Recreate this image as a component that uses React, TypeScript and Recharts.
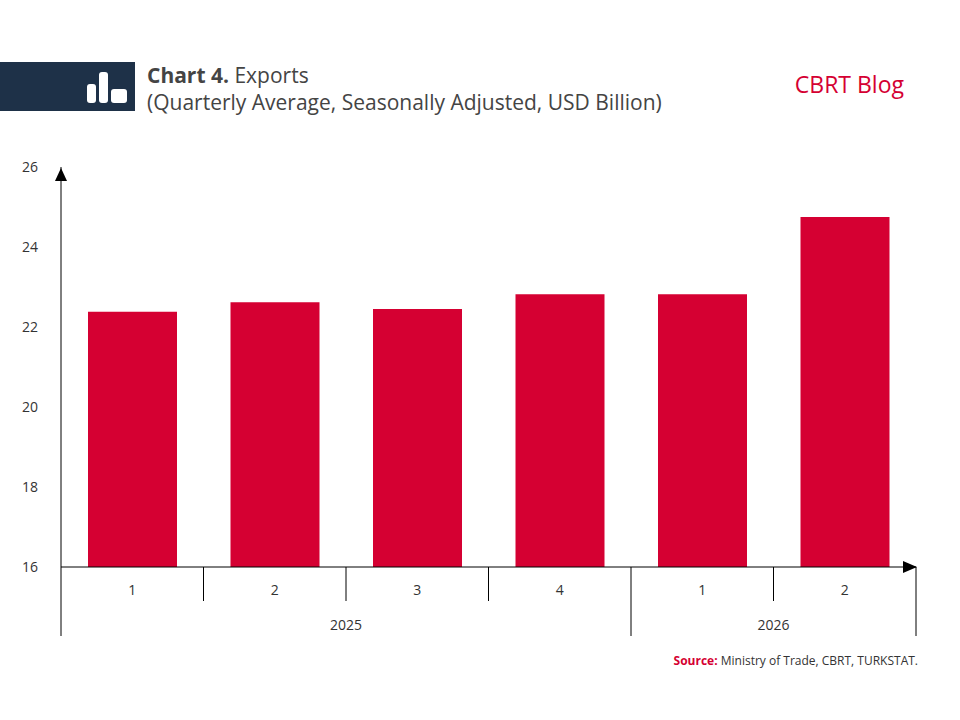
import { BarChart, Bar, XAxis, YAxis, Customized } from "recharts";

const quarters = ["1", "2", "3", "4", "1", "2"];
const years = ["2025", "2025", "2025", "2025", "2026", "2026"];
const exportsBn = [22.38, 22.62, 22.45, 22.82, 22.82, 24.75];
const yTicks = [16, 18, 20, 22, 24, 26];

const data = quarters.map((q, i) => ({ key: `${years[i]}-${q}`, q, year: years[i], value: exportsBn[i] }));

const RED = "#d50032";
const FONT = "'Open Sans', sans-serif";
const BAND = 142.5;

const QuarterTick = (props: any) => {
  const { x, index } = props;
  const y = 567;
  const left = x - BAND / 2;
  const right = x + BAND / 2;
  const longLeft = index === 0 || index === 4;
  return (
    <g>
      <text x={x} y={y + 28} textAnchor="middle" fontSize={14} fill="#333" fontFamily={FONT}>
        {data[index].q}
      </text>
      <line x1={left} x2={left} y1={y} y2={longLeft ? y + 69 : y + 34} stroke="#000" />
      {index === 5 && <line x1={right} x2={right} y1={y} y2={y + 69} stroke="#000" />}
      {index === 2 && (
        <text x={left} y={y + 63} textAnchor="middle" fontSize={14} fill="#333" fontFamily={FONT}>2025</text>
      )}
      {index === 5 && (
        <text x={left} y={y + 63} textAnchor="middle" fontSize={14} fill="#333" fontFamily={FONT}>2026</text>
      )}
    </g>
  );
};

const Arrows = () => (
  <g>
    <path d="M55,181 L61,168 L67,181 Z" fill="#000" />
    <path d="M903,561 L917,567 L903,573 Z" fill="#000" />
  </g>
);

export default function App() {
  return (
    <div style={{ position: "fixed", width: 960, height: 720, left: 0, top: 0, background: "#fff", fontFamily: FONT }}>
      <div style={{ position: "absolute", left: -8, top: 62, width: 143, height: 49, background: "#1e3148" }}>
        <div style={{ position: "absolute", left: 95, top: 22, width: 9, height: 19, background: "#fff", borderRadius: 3 }} />
        <div style={{ position: "absolute", left: 107, top: 10, width: 9, height: 31, background: "#fff", borderRadius: 3 }} />
        <div style={{ position: "absolute", left: 119, top: 27, width: 16, height: 14, background: "#fff", borderRadius: 3 }} />
      </div>
      <div style={{ position: "absolute", left: 147, top: 62, fontSize: 21, color: "#444", lineHeight: "27px" }}>
        <div><b>Chart 4.</b> Exports</div>
        <div>(Quarterly Average, Seasonally Adjusted, USD Billion)</div>
      </div>
      <div style={{ position: "absolute", right: 56, top: 68, fontSize: 23, color: RED }}>CBRT Blog</div>
      <div style={{ position: "absolute", right: 42, top: 652, fontSize: 12, color: "#333" }}>
        <b style={{ color: RED }}>Source:</b> Ministry of Trade, CBRT, TURKSTAT.
      </div>
      <div style={{ position: "absolute", left: 0, top: 0 }}>
        <BarChart width={960} height={720} data={data} margin={{ top: 167, left: 11, right: 44, bottom: 0 }} barCategoryGap={27}>
          <YAxis
            width={50}
            domain={[16, 26]}
            ticks={yTicks}
            tickLine={false}
            tickMargin={17}
            axisLine={{ stroke: "#000" }}
            tick={{ fontSize: 14, fill: "#333", fontFamily: FONT }}
          />
          <XAxis
            dataKey="key"
            height={153}
            tickLine={false}
            axisLine={{ stroke: "#000" }}
            tick={<QuarterTick />}
            interval={0}
          />
          <Bar dataKey="value" fill={RED} isAnimationActive={false} />
          <Customized component={Arrows} />
        </BarChart>
      </div>
    </div>
  );
}
